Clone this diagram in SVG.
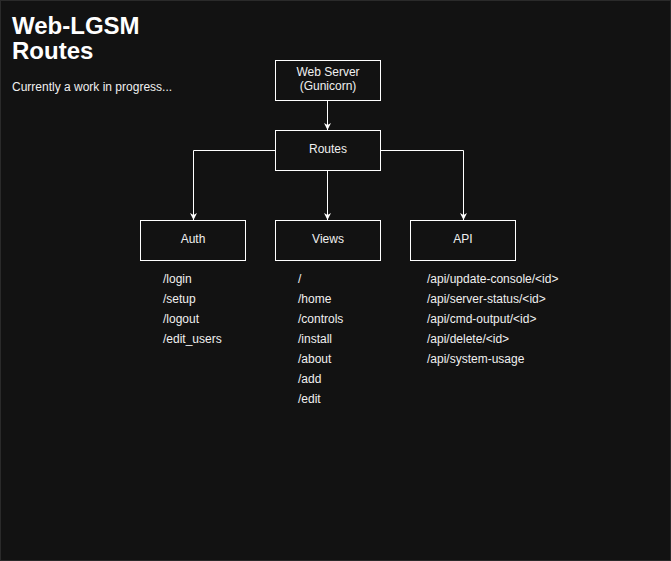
<svg xmlns="http://www.w3.org/2000/svg" width="671" height="561" viewBox="0 0 671 561">
<style>
.t{font-family:"Liberation Sans",Arial,sans-serif;fill:#f0f0f0;font-size:12px}
.c{text-anchor:middle}
.h{font-weight:bold;font-size:24px;fill:#ffffff}
.box{fill:#121212;stroke:#ffffff;stroke-width:1}
.ln{fill:none;stroke:#ffffff;stroke-width:1}
</style>
<defs>
<marker id="ar" viewBox="0 0 10 10" refX="10" refY="5" markerWidth="7" markerHeight="7" markerUnits="userSpaceOnUse" orient="auto">
<path d="M0,0 L10,5 L0,10 L3,5 Z" fill="#ffffff"/>
</marker>
</defs>
<rect x="0.5" y="0.5" width="670" height="560" fill="#121212" stroke="#2a2a2a"/>
<g id="title">
<text class="t h" x="12" y="34">Web-LGSM</text>
<text class="t h" x="12" y="59">Routes</text>
<text class="t" x="12" y="91">Currently a work in progress...</text>
</g>
<g id="connectors">
<path class="ln" d="M327.5,100.5 V130" marker-end="url(#ar)"/>
<path class="ln" d="M327.5,170.5 V220" marker-end="url(#ar)"/>
<path class="ln" d="M275,150.5 H193.5 V220" marker-end="url(#ar)"/>
<path class="ln" d="M380,150.5 H463.5 V220" marker-end="url(#ar)"/>
</g>
<g id="webserver">
<rect class="box" x="275.5" y="60.5" width="105" height="40"/>
<text class="t c" x="328" y="76">Web Server</text>
<text class="t c" x="328" y="90">(Gunicorn)</text>
</g>
<g id="routes">
<rect class="box" x="275.5" y="130.5" width="105" height="40"/>
<text class="t c" x="328" y="153">Routes</text>
</g>
<g id="auth">
<rect class="box" x="140.5" y="220.5" width="105" height="40"/>
<text class="t c" x="193" y="243">Auth</text>
</g>
<g id="views">
<rect class="box" x="275.5" y="220.5" width="105" height="40"/>
<text class="t c" x="328" y="243">Views</text>
</g>
<g id="api">
<rect class="box" x="410.5" y="220.5" width="105" height="40"/>
<text class="t c" x="463" y="243">API</text>
</g>
<g id="auth-list">
<text class="t" x="163" y="283">/login</text>
<text class="t" x="163" y="303">/setup</text>
<text class="t" x="163" y="323">/logout</text>
<text class="t" x="163" y="343">/edit_users</text>
</g>
<g id="views-list">
<text class="t" x="298" y="283">/</text>
<text class="t" x="298" y="303">/home</text>
<text class="t" x="298" y="323">/controls</text>
<text class="t" x="298" y="343">/install</text>
<text class="t" x="298" y="363">/about</text>
<text class="t" x="298" y="383">/add</text>
<text class="t" x="298" y="403">/edit</text>
</g>
<g id="api-list">
<text class="t" x="427" y="283">/api/update-console/&lt;id&gt;</text>
<text class="t" x="427" y="303">/api/server-status/&lt;id&gt;</text>
<text class="t" x="427" y="323">/api/cmd-output/&lt;id&gt;</text>
<text class="t" x="427" y="343">/api/delete/&lt;id&gt;</text>
<text class="t" x="427" y="363">/api/system-usage</text>
</g>
</svg>
